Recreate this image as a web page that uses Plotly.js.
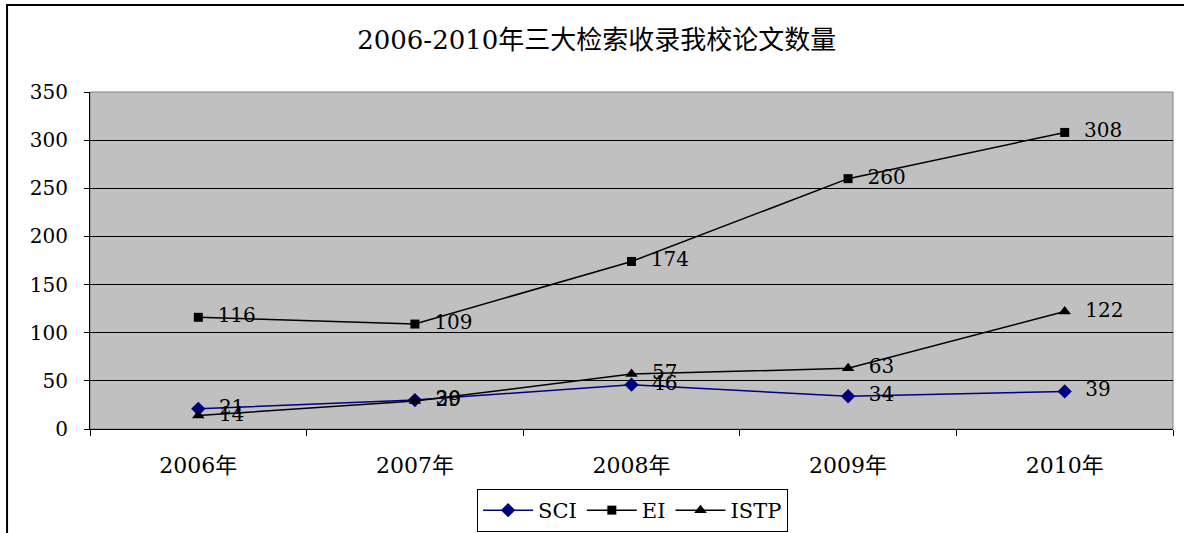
<!DOCTYPE html>
<html>
<head>
<meta charset="utf-8">
<script src="https://cdn.plot.ly/plotly-3.0.1.min.js"></script>
<style>
  html, body { margin: 0; padding: 0; background: #ffffff; }
  #chart { width: 1184px; height: 533px; }
</style>
</head>
<body>
<div id="chart"></div>
<script>
var categories = ["2006年", "2007年", "2008年", "2009年", "2010年"];
var sciValues = [21, 30, 46, 34, 39];
var eiValues = [116, 109, 174, 260, 308];
var istpValues = [14, 29, 57, 63, 122];
var yTickValues = [0, 50, 100, 150, 200, 250, 300, 350];
var titleText = "2006-2010年三大检索收录我校论文数量";

var FONT = "DejaVu Serif, Noto Sans CJK SC, serif";

function series(name, values, color, symbol, size) {
  return {
    type: "scatter",
    mode: "lines+markers+text",
    name: name,
    x: categories,
    y: values,
    text: values.map(function (v) { return "  " + v; }),
    textposition: "middle right",
    textfont: { family: FONT, size: 20, color: "#000000" },
    line: { color: color, width: 1.5 },
    marker: { color: color, symbol: symbol, size: size, line: { color: color, width: 0 } },
    cliponaxis: false
  };
}

var data = [
  series("SCI", sciValues, "#000080", "diamond", 11),
  series("EI", eiValues, "#000000", "square", 9),
  series("ISTP", istpValues, "#000000", "triangle-up", 11)
];

var layout = {
  width: 1184,
  height: 533,
  margin: { l: 90, r: 11, t: 92, b: 104, autoexpand: false },
  paper_bgcolor: "#ffffff",
  plot_bgcolor: "#c0c0c0",
  font: { family: FONT, size: 19, color: "#000000" },
  title: {
    text: titleText,
    font: { family: FONT, size: 26, color: "#000000" },
    x: 0.504, xanchor: "center",
    y: 0.925, yanchor: "middle"
  },
  showlegend: true,
  legend: {
    orientation: "h",
    x: 0.501, xanchor: "center",
    y: -0.178, yanchor: "top",
    bordercolor: "#000000",
    borderwidth: 1,
    bgcolor: "#ffffff",
    font: { family: FONT, size: 21, color: "#000000" },
    itemwidth: 50,
    tracegroupgap: 0
  },
  xaxis: {
    type: "category",
    range: [-0.5, 4.5],
    autorange: false,
    tickson: "boundaries",
    ticks: "outside",
    ticklen: 6,
    tickcolor: "#000000",
    ticklabelstandoff: 17,
    showgrid: false,
    showline: true,
    linecolor: "#000000",
    linewidth: 1,
    tickfont: { family: FONT, size: 22, color: "#000000" },
    zeroline: false,
    fixedrange: true
  },
  yaxis: {
    range: [0, 350],
    autorange: false,
    tickvals: yTickValues,
    ticktext: yTickValues.map(String),
    ticks: "outside",
    ticklen: 5,
    tickcolor: "#000000",
    ticklabelstandoff: 12,
    showgrid: true,
    gridcolor: "#000000",
    gridwidth: 1,
    showline: true,
    linecolor: "#000000",
    linewidth: 1,
    zeroline: false,
    tickfont: { family: FONT, size: 20, color: "#000000" },
    fixedrange: true
  },
  shapes: [
    {
      type: "rect", xref: "paper", yref: "paper",
      x0: 0, x1: 1, y0: 0, y1: 1,
      line: { color: "#808080", width: 1 },
      layer: "below"
    },
    {
      type: "rect", xref: "paper", yref: "paper",
      x0: -0.0766, x1: 1.03, y0: -0.4, y1: 1.258,
      line: { color: "#000000", width: 2 },
      fillcolor: "rgba(0,0,0,0)",
      layer: "below"
    }
  ]
};

Plotly.newPlot("chart", data, layout, { displayModeBar: false, staticPlot: true });
</script>
</body>
</html>
